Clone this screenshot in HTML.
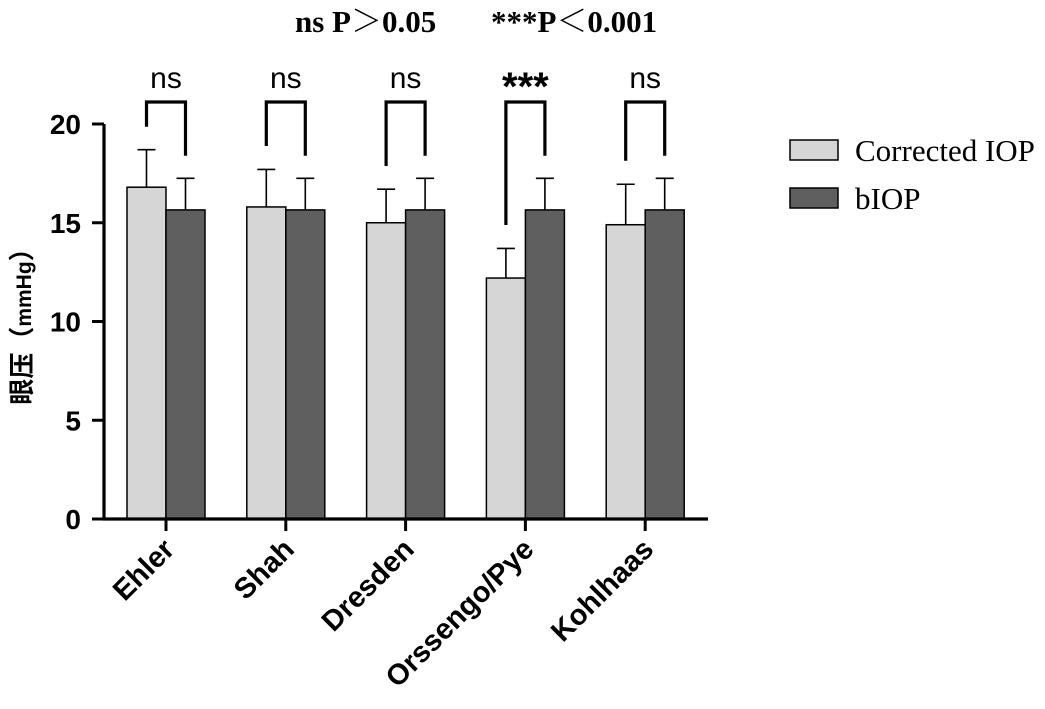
<!DOCTYPE html>
<html><head><meta charset="utf-8"><style>
body{margin:0;background:#fff}
svg text{font-family:"Liberation Sans","Noto Sans CJK SC",sans-serif}
</style></head><body>
<svg id="c" width="1045" height="704" viewBox="0 0 1045 704" xmlns="http://www.w3.org/2000/svg">
<text x="295" y="32" font-size="31" font-weight="bold" style="font-family:'Liberation Serif','Noto Serif CJK SC',serif">ns P＞0.05</text>
<text x="491" y="32" font-size="31" font-weight="bold" style="font-family:'Liberation Serif','Noto Serif CJK SC',serif">***P＜0.001</text>
<text transform="translate(31,320) rotate(-90)" text-anchor="middle" font-size="26" font-weight="bold">眼压（<tspan font-size="21">mmHg</tspan>）</text>
<g>
<rect x="790" y="140" width="48" height="20" fill="#d6d6d6" stroke="#000" stroke-width="1.5"/>
<text x="855" y="161" font-size="31" style="font-family:'Liberation Serif',serif">Corrected IOP</text>
<rect x="790" y="188" width="48" height="20" fill="#5f5f5f" stroke="#000" stroke-width="1.5"/>
<text x="855" y="209" font-size="31" style="font-family:'Liberation Serif',serif">bIOP</text>
</g>
</svg>
<script>
const categories=["Ehler","Shah","Dresden","Orssengo/Pye","Kohlhaas"];
const corrected=[16.8,15.8,15.0,12.2,14.9];
const correctedErr=[1.9,1.9,1.7,1.5,2.05];
const biop=[15.65,15.65,15.65,15.65,15.65];
const biopErr=[1.6,1.6,1.6,1.6,1.6];
const sigLabels=["ns","ns","ns","***","ns"];
const leftLegEnd=[126.7,146,166,225,160.7];
const yTicks=[0,5,10,15,20];
const NS="http://www.w3.org/2000/svg";
const svg=document.getElementById('c');
const y0=519,pxPer=19.75,xAxis=104,first=166,step=119.8,bw=39;
const Y=v=>y0-v*pxPer;
const X=i=>first+i*step;
function mk(t,a,p){const e=document.createElementNS(NS,t);for(const k in a)e.setAttribute(k,a[k]);(p||svg).appendChild(e);return e;}
categories.forEach((c,i)=>{
  const cx=X(i);
  const sets=[[corrected[i],correctedErr[i],'#d6d6d6',cx-bw],[biop[i],biopErr[i],'#5f5f5f',cx]];
  sets.forEach((s,j)=>{
    const r=mk('rect',{x:s[3],y:Y(s[0]),width:bw,height:Y(0)-Y(s[0]),fill:s[2],stroke:'#000','stroke-width':1.5});
    
    
    const m=s[3]+bw/2;
    const e=mk('path',{d:`M${m},${Y(s[0])}V${Y(s[0]+s[1])}M${m-9},${Y(s[0]+s[1])}H${m+9}`,stroke:'#000','stroke-width':1.6,fill:'none'});
    
    
  });
  const l=cx-bw/2,r2=cx+bw/2;
  const b=mk('path',{d:`M${l},${leftLegEnd[i]}V102H${r2}V155.7`,stroke:'#000','stroke-width':3.2,fill:'none'});
  
  
  const star=sigLabels[i]==='***';
  const t=mk('text',{x:cx,y:star?100:88,'text-anchor':'middle','font-size':star?40:30,'font-weight':star?'bold':'normal'});
  t.textContent=sigLabels[i];
  
  
  const tk=mk('line',{x1:cx,y1:y0,x2:cx,y2:y0+12,stroke:'#000','stroke-width':3});
  
  
  const xl=mk('text',{transform:`translate(${cx+10},${y0+32}) rotate(-45)`,'text-anchor':'end','font-size':29,'font-weight':'bold'});
  xl.textContent=c;
  
  
});
const ax=mk('path',{d:`M${xAxis},${Y(20)}V${y0}H708`,stroke:'#000','stroke-width':3.2,fill:'none'});


yTicks.forEach(v=>{
  const l=mk('line',{x1:xAxis-12,y1:Y(v),x2:xAxis,y2:Y(v),stroke:'#000','stroke-width':3});
  
  
  const t=mk('text',{x:81,y:Y(v)+10,'text-anchor':'end','font-size':28,'font-weight':'bold'});
  t.textContent=v;
  
  
});
</script>
</body></html>
